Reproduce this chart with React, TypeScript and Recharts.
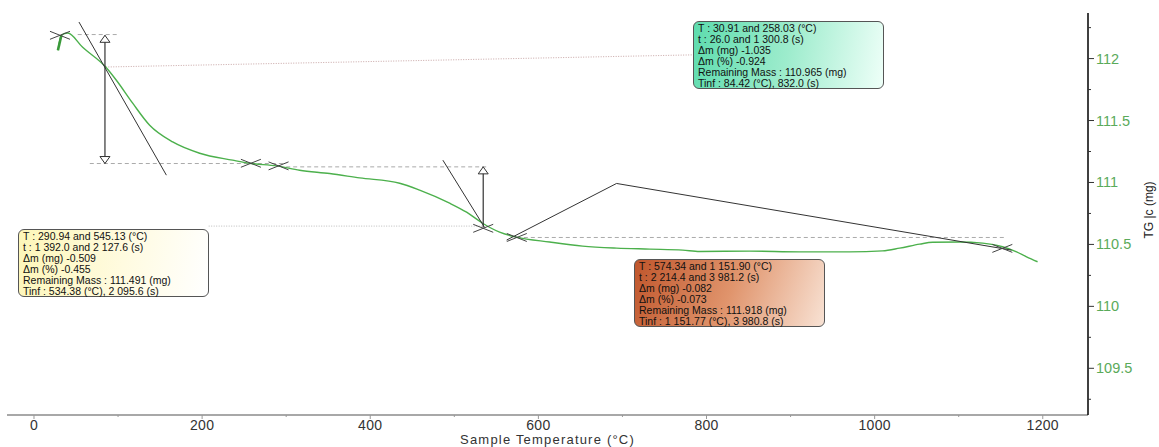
import React from 'react'
import { ComposedChart, Line, XAxis, YAxis, ReferenceLine, ReferenceDot } from 'recharts'

// TG curve: sample temperature (°C) and mass (mg)
const tempC = [
  28.5, 32.6, 40.1, 57.9, 85.3, 98.0, 117.4, 137.6, 165.0, 197.1, 236.3, 256.5, 288.7, 316.0,
  351.7, 387.4, 435.0, 458.7, 494.4, 514.6, 533.6, 553.9, 574.1, 613.4, 652.6, 693.0, 732.3,
  771.6, 791.8, 851.2, 910.7, 970.2, 1009.4, 1029.7, 1053.5, 1068.9, 1101.0, 1128.4, 1152.1,
  1168.8, 1180.7, 1193.8
]
const massMg = [
  112.067, 112.188, 112.206, 112.091, 111.932, 111.825, 111.64, 111.462, 111.327, 111.236,
  111.18, 111.155, 111.134, 111.099, 111.072, 111.037, 110.994, 110.938, 110.833, 110.76,
  110.671, 110.599, 110.559, 110.519, 110.486, 110.47, 110.462, 110.454, 110.443, 110.446,
  110.44, 110.44, 110.448, 110.47, 110.502, 110.518, 110.52, 110.51, 110.481, 110.44, 110.4,
  110.36
]

const tempTicks = [0, 100, 200, 300, 400, 500, 600, 700, 800, 900, 1000, 1100, 1200]
const massTicks = [109.25, 109.5, 109.75, 110, 110.25, 110.5, 110.75, 111, 111.25, 111.5, 111.75, 112, 112.25]

// step evaluation marks: crosses at onset / end / inflection points
const crossT = [30.91, 258.03, 290.94, 534.38, 574.34, 1151.9]
const crossM = [112.188, 111.155, 111.134, 110.63, 110.556, 110.468]

// tangents and arrows [T1, m1, T2, m2]
const tangentLines = [
  [53.5, 112.295, 157.5, 111.059],
  [486.4, 111.18, 536.0, 110.637]
]
const stepArrows = [
  [84.42, 112.188, 84.42, 111.153],
  [534.38, 111.126, 534.38, 110.637]
]
const levelLines = [
  [52, 112.194, 99.7, 112.194],
  [66.4, 111.153, 300, 111.153],
  [300, 111.126, 540, 111.126],
  [574.34, 110.556, 1154.5, 110.556]
]
const leaderPoints = [
  [562.2, 110.535],
  [693.0, 110.992],
  [1162.8, 110.454]
]
const greenLink = [85.4, 111.932, 783.4, 112.03]
const yellowLink = [207.8, 110.648, 534.38, 110.648]

const greenBox = [
  'T : 30.91 and 258.03 (°C)',
  't : 26.0 and 1 300.8 (s)',
  'Δm (mg) -1.035',
  'Δm (%) -0.924',
  'Remaining Mass : 110.965 (mg)',
  'Tinf : 84.42 (°C), 832.0 (s)'
]
const yellowBox = [
  'T : 290.94 and 545.13 (°C)',
  't : 1 392.0 and 2 127.6 (s)',
  'Δm (mg) -0.509',
  'Δm (%) -0.455',
  'Remaining Mass : 111.491 (mg)',
  'Tinf : 534.38 (°C), 2 095.6 (s)'
]
const orangeBox = [
  'T : 574.34 and 1 151.90 (°C)',
  't : 2 214.4 and 3 981.2 (s)',
  'Δm (mg) -0.082',
  'Δm (%) -0.073',
  'Remaining Mass : 111.918 (mg)',
  'Tinf : 1 151.77 (°C), 3 980.8 (s)'
]

const curve = tempC.map((t, i) => ({ T: t, m: massMg[i] }))
const hook = curve.slice(0, 2)
const FONT = '"Liberation Sans", Arial, sans-serif'

const XTick = (props: any) => {
  const { x, y, payload } = props
  const major = payload.value % 200 === 0
  return (
    <g>
      <line x1={x} y1={y} x2={x} y2={y + (major ? 4 : 2)} stroke="#999" />
      {major && (
        <text x={x} y={y + 14.5} textAnchor="middle" fontSize={14} letterSpacing={0.3} fill="#333" fontFamily={FONT}>
          {payload.value}
        </text>
      )}
    </g>
  )
}

const YTick = (props: any) => {
  const { x, y, payload } = props
  const major = payload.value % 0.5 === 0
  return (
    <g>
      <line x1={x} y1={y} x2={x + (major ? 6 : 3)} y2={y} stroke="#333" />
      {major && (
        <text x={x + 8} y={y + 5} textAnchor="start" fontSize={14.5} fill="#5aaa5a" fontFamily={FONT}>
          {payload.value}
        </text>
      )}
    </g>
  )
}

const Cross = (props: any) => {
  const { cx, cy } = props
  return (
    <g stroke="#444" strokeWidth={1}>
      <line x1={cx - 10} y1={cy - 4} x2={cx + 10} y2={cy + 4} />
      <line x1={cx - 10} y1={cy + 4} x2={cx + 10} y2={cy - 4} />
    </g>
  )
}

const HeadUp = (props: any) => {
  const { cx, cy } = props
  return <polygon points={`${cx},${cy} ${cx - 5},${cy + 7} ${cx + 5},${cy + 7}`} fill="#fff" stroke="#333" />
}

const HeadDown = (props: any) => {
  const { cx, cy } = props
  return <polygon points={`${cx},${cy} ${cx - 5},${cy - 7} ${cx + 5},${cy - 7}`} fill="#fff" stroke="#333" />
}

function StepBox({ lines, style }: { lines: string[]; style: React.CSSProperties }) {
  return (
    <div
      style={{
        position: 'absolute',
        width: 191,
        height: 68,
        border: '1px solid #555',
        borderRadius: 6,
        padding: '1px 0 0 4px',
        boxSizing: 'border-box',
        fontFamily: FONT,
        fontSize: 10.5,
        lineHeight: '11.1px',
        color: '#111',
        whiteSpace: 'nowrap',
        ...style
      }}
    >
      {lines.map((l) => (
        <div key={l}>{l}</div>
      ))}
    </div>
  )
}

export default function App() {
  return (
    <div style={{ position: 'absolute', left: 0, top: 0, width: 1159, height: 447, background: '#fff' }}>
      <ComposedChart width={1159} height={447} margin={{ top: 13, right: 1, bottom: 0, left: 7 }}>
        <XAxis
          type="number"
          dataKey="T"
          domain={[-32.1, 1253.8]}
          ticks={tempTicks}
          tick={<XTick />}
          tickSize={0}
          tickMargin={0}
          tickLine={false}
          axisLine={{ stroke: '#a8a8a8', strokeWidth: 2 }}
          height={32}
          allowDataOverflow
          label={{
            content: (p: any) => {
              const vb = p.viewBox
              return (
                <text
                  x={vb.x + vb.width / 2}
                  y={vb.y + vb.height - 3.5}
                  textAnchor="middle"
                  fontSize={13}
                  letterSpacing={1.2}
                  fill="#333"
                  fontFamily={FONT}
                >
                  Sample Temperature (°C)
                </text>
              )
            }
          }}
        />
        <YAxis
          type="number"
          orientation="right"
          domain={[109.123, 112.368]}
          ticks={massTicks}
          tick={<YTick />}
          tickSize={0}
          tickMargin={0}
          tickLine={false}
          axisLine={{ stroke: '#000', strokeWidth: 1.5 }}
          width={70}
          allowDataOverflow
          label={{
            content: (p: any) => {
              const vb = p.viewBox
              const lx = vb.x + vb.width - 9
              const ly = vb.y + vb.height / 2 - 4
              return (
                <text x={lx} y={ly} transform={`rotate(-90 ${lx} ${ly})`} textAnchor="middle" dominantBaseline="central" fontSize={12} fill="#222" fontFamily={FONT}>
                  TG |c (mg)
                </text>
              )
            }
          }}
        />

        {levelLines.map((s, i) => (
          <ReferenceLine key={'lv' + i} segment={[{ x: s[0], y: s[1] }, { x: s[2], y: s[3] }]} stroke="#aaa" strokeDasharray="4 3" />
        ))}
        <ReferenceLine segment={[{ x: greenLink[0], y: greenLink[1] }, { x: greenLink[2], y: greenLink[3] }]} stroke="#c9a7a7" strokeDasharray="1 1.5" />
        <ReferenceLine segment={[{ x: yellowLink[0], y: yellowLink[1] }, { x: yellowLink[2], y: yellowLink[3] }]} stroke="#bbb" strokeDasharray="1 1.5" />

        <Line data={curve} dataKey="m" type="monotone" stroke="#4cb04c" strokeWidth={1.4} dot={false} activeDot={false} isAnimationActive={false} />
        <Line data={hook} dataKey="m" type="linear" stroke="#3a9a3a" strokeWidth={2.6} dot={false} activeDot={false} isAnimationActive={false} />

        {tangentLines.map((s, i) => (
          <ReferenceLine key={'tg' + i} segment={[{ x: s[0], y: s[1] }, { x: s[2], y: s[3] }]} stroke="#333" />
        ))}
        {leaderPoints.slice(1).map((p, i) => (
          <ReferenceLine
            key={'ld' + i}
            segment={[{ x: leaderPoints[i][0], y: leaderPoints[i][1] }, { x: p[0], y: p[1] }]}
            stroke="#333"
          />
        ))}
        {stepArrows.map((s, i) => (
          <ReferenceLine key={'ar' + i} segment={[{ x: s[0], y: s[1] }, { x: s[2], y: s[3] }]} stroke="#333" strokeWidth={1.2} />
        ))}
        {stepArrows.map((s, i) => (
          <ReferenceDot key={'hu' + i} x={s[0]} y={s[1]} r={0} shape={(p: any) => <HeadUp {...p} />} />
        ))}
        <ReferenceDot x={stepArrows[0][2]} y={stepArrows[0][3]} r={0} shape={(p: any) => <HeadDown {...p} />} />

        {crossT.map((t, i) => (
          <ReferenceDot key={'cx' + i} x={t} y={crossM[i]} r={0} shape={(p: any) => <Cross {...p} />} />
        ))}
      </ComposedChart>

      <StepBox
        lines={greenBox}
        style={{ left: 693, top: 21, background: 'linear-gradient(100deg, #5edcae 0%, #9eeccd 50%, #eefff8 100%)' }}
      />
      <StepBox
        lines={yellowBox}
        style={{ left: 18, top: 229, background: 'linear-gradient(100deg, #fdf6b8 0%, #fffbe0 55%, #ffffff 100%)' }}
      />
      <StepBox
        lines={orangeBox}
        style={{ left: 634, top: 259, background: 'linear-gradient(110deg, #c0562c 0%, #e0946c 50%, #f8e2d4 100%)' }}
      />
    </div>
  )
}
